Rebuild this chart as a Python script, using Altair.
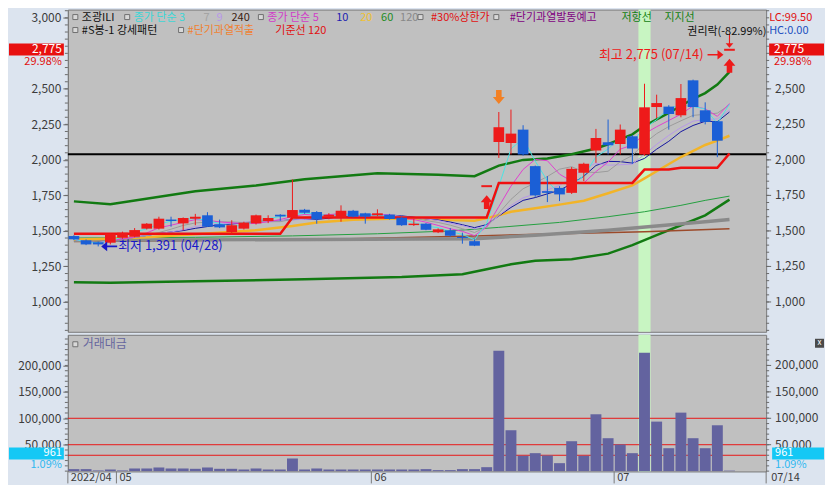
import altair as alt
import pandas as pd

FONT = "Noto Sans CJK KR"

# ---------------- data ----------------
dates = ["04/26", "04/27", "04/28", "04/29",
         "05/02", "05/03", "05/04", "05/06", "05/09", "05/10", "05/11", "05/12", "05/13",
         "05/16", "05/17", "05/18", "05/19", "05/20", "05/23", "05/24", "05/25", "05/26", "05/27",
         "05/30", "05/31",
         "06/02", "06/03", "06/07", "06/08", "06/09", "06/10", "06/13", "06/14", "06/15", "06/16",
         "06/17", "06/20", "06/21", "06/22", "06/23", "06/24", "06/27", "06/28", "06/29", "06/30",
         "07/01", "07/04", "07/05", "07/06", "07/07", "07/08", "07/11", "07/12", "07/13", "07/14"]

open_ = [1464, 1434, 1420, 1417,
         1452, 1459, 1516, 1516, 1580, 1553, 1586, 1610, 1547,
         1492, 1516, 1553, 1570, 1614, 1593, 1649, 1633, 1600, 1593,
         1642, 1624,
         1610, 1614, 1593, 1541, 1551, 1490, 1504, 1458, 1428, 1815,
         2126, 2119, 2213, 1956, 1780, 1803, 1768, 1909, 2066, 2124,
         2112, 2166, 2038, 2372, 2375, 2314, 2560, 2349, 2272, 2775]
high = [1470, 1440, 1425, 1485,
        1495, 1520, 1555, 1600, 1600, 1595, 1620, 1632, 1580,
        1575, 1565, 1615, 1610, 1618, 1862, 1655, 1640, 1625, 1680,
        1648, 1628,
        1652, 1620, 1600, 1586, 1555, 1518, 1520, 1488, 1440, 1815,
        2337, 2354, 2244, 1960, 1886, 1815, 1950, 1980, 2218, 2284,
        2249, 2175, 2536, 2459, 2385, 2534, 2565, 2405, 2272, 2775]
low = [1435, 1400, 1391, 1405,
       1445, 1455, 1510, 1510, 1530, 1505, 1540, 1528, 1520,
       1476, 1510, 1545, 1555, 1572, 1590, 1620, 1551, 1582, 1565,
       1595, 1551,
       1605, 1580, 1535, 1535, 1505, 1485, 1460, 1410, 1393, 1815,
       2014, 2038, 2030, 1740, 1703, 1710, 1760, 1850, 1979, 2038,
       2038, 1972, 2030, 2295, 2213, 2300, 2300, 2250, 2019, 2775]
close = [1441, 1405, 1405, 1480,
         1488, 1506, 1551, 1586, 1570, 1591, 1600, 1530, 1525,
         1540, 1558, 1610, 1591, 1602, 1647, 1628, 1582, 1614, 1642,
         1600, 1600,
         1624, 1584, 1540, 1551, 1508, 1511, 1466, 1450, 1396, 1815,
         2230, 2185, 2038, 1750, 1768, 1757, 1937, 1972, 2154, 2103,
         2213, 2080, 2370, 2400, 2323, 2435, 2372, 2267, 2135, 2775]
volume = [3800, 3800, 1300, 3100,
          1300, 5000, 5000, 6900, 5000, 5000, 4400, 6900, 4400,
          4400, 3100, 5000, 3100, 3100, 23900, 3100, 5000, 3100, 3100,
          3100, 3100,
          3100, 3100, 3100, 3100, 3800, 1900, 1900, 3800, 3800, 7500,
          228000, 77400, 29000, 34000, 29600, 15100, 56600, 29000, 107600, 62300,
          50300, 34000, 224000, 93700, 43400, 110700, 62300, 43400, 86800, 961]

# lines (candle index, price)
ma20_idx = [0, 3, 6, 10, 15, 18, 20, 23, 26, 29, 31, 33, 34, 35, 36, 38, 40, 42, 44, 46, 47, 48, 50, 52, 53, 54]
ma20_val = [1440, 1445, 1455, 1476, 1505, 1535, 1560, 1578, 1586, 1585, 1576, 1572, 1590, 1610, 1635, 1660,
            1685, 1712, 1765, 1820, 1870, 1920, 2020, 2105, 2135, 2170]
res_idx = [0, 3, 10, 15, 19, 25, 30, 33, 35, 37, 39, 41, 43, 44, 46, 47, 49, 51, 52, 53, 54]
res_val = [1708, 1688, 1780, 1820, 1864, 1906, 1895, 1885, 1960, 2000, 2010, 2040, 2080, 2110, 2180, 2240,
           2330, 2430, 2470, 2530, 2620]
sup_idx = [0, 3, 10, 19, 27, 32, 34, 36, 38, 41, 44, 46, 48, 50, 52, 54]
sup_val = [1139, 1135, 1145, 1160, 1175, 1195, 1230, 1265, 1290, 1300, 1340, 1400, 1470, 1540, 1610, 1720]
ma60_idx = [0, 10, 18, 25, 31, 35, 40, 44, 47, 50, 52, 54]
ma60_val = [1450, 1455, 1465, 1480, 1500, 1525, 1560, 1600, 1635, 1680, 1715, 1745]
ma120_idx = [0, 20, 33, 38, 44, 48, 52, 54]
ma120_val = [1435, 1440, 1445, 1470, 1505, 1535, 1565, 1580]
ma240_idx = [0, 20, 33, 40, 47, 54]
ma240_val = [1425, 1440, 1465, 1480, 1495, 1515]
base_idx = [0, 17, 18, 34, 35, 46, 47, 49, 50, 53, 54]
base_val = [1480, 1480, 1595, 1595, 1838, 1838, 1932, 1932, 1944, 1944, 2045]

level_line = [2040]
vol_levels = [100000, 50000, 30000]
highlight = [47]
sig_up = [34, 54]
sig_down = [35]

price_ticks = [1000, 1250, 1500, 1750, 2000, 2250, 2500, 3000]
price_ticks_right = [1000, 1250, 1500, 1750, 2000, 2250, 2500]
vol_ticks = [50000, 100000, 150000, 200000]
month_pos = [-0.5, 3.5, 24.5, 44.5]
month_lab = ["2022/04", "05", "06", "07"]

# ---------------- layout ----------------
W, H1, H2 = 700, 323, 137
BG = "#dce4ef"
RED = "#ee1a1a"
BLUE = "#1b5fd6"
TXT = "#3c3c3c"

n = len(dates)
df = pd.DataFrame({"i": list(range(n)), "d": dates, "o": open_, "h": high,
                   "l": low, "c": close, "v": volume})
DUMMY = pd.DataFrame({"a": [0]})

xs = alt.Scale(domain=[-0.5, 57.02], nice=False, zero=False)
ys = alt.Scale(domain=[790, 3058], nice=False, zero=False)
vs = alt.Scale(domain=[-600, 258000], nice=False, zero=False)

ax_common = dict(title=None, tickSize=5, labelPadding=2, minExtent=59, maxExtent=59,
                 labelFont=FONT, labelFontSize=12, labelColor=TXT, tickColor="#6a6a6a",
                 domainColor="#7a7a7a", grid=False, labelOverlap=False)
pax = alt.Axis(values=price_ticks, format=",d", **ax_common)
vax = alt.Axis(values=vol_ticks, format=",d", **ax_common)


def X(f):
    return alt.X(f, scale=xs, axis=None)


def PY(f):
    return alt.Y(f, scale=ys, axis=pax)


def VY(f):
    return alt.Y(f, scale=vs, axis=vax)


def txt(x, y, t, color, size=12, align="left", baseline="middle", clip=False):
    return alt.Chart(DUMMY).mark_text(text=t, color=color, fontSize=size, font=FONT,
                                      align=align, baseline=baseline, clip=clip).encode(
        x=alt.value(x), y=alt.value(y))


def box(x1, x2, y1, y2, color):
    return alt.Chart(DUMMY).mark_rect(color=color).encode(
        x=alt.value(x1), x2=alt.value(x2), y=alt.value(y1), y2=alt.value(y2))


def sq(x, y):
    return alt.Chart(DUMMY).mark_rect(fill="#d8d8d8", stroke="#707070", strokeWidth=1).encode(
        x=alt.value(x), x2=alt.value(x + 5), y=alt.value(y - 3), y2=alt.value(y + 2))


def pline(idx, val, color, width):
    return alt.Chart(pd.DataFrame({"i": idx, "p": val})).mark_line(
        color=color, strokeWidth=width).encode(x=X("i:Q"), y=PY("p:Q"))


band_df = pd.DataFrame({"i": highlight})
band_main = alt.Chart(band_df).transform_calculate(
    a="datum.i-0.5", b="datum.i+0.5").mark_rect(color="#c8f5c2").encode(x=X("a:Q"), x2="b:Q")

level = alt.Chart(pd.DataFrame({"p": level_line})).mark_rule(
    color="#000000", strokeWidth=2).encode(y=PY("p:Q"))

sort_i = [alt.SortField("i")]
short_ma = (alt.Chart(df)
            .transform_window(ma3="mean(c)", frame=[-2, 0], sort=sort_i)
            .transform_window(ma5="mean(c)", frame=[-4, 0], sort=sort_i)
            .transform_window(ma7="mean(c)", frame=[-6, 0], sort=sort_i)
            .transform_window(ma9="mean(c)", frame=[-8, 0], sort=sort_i)
            .transform_window(ma10="mean(c)", frame=[-9, 0], sort=sort_i)
            .transform_fold(["ma10", "ma9", "ma7", "ma5", "ma3"], as_=["k", "m"])
            .mark_line(strokeWidth=1)
            .encode(x=X("i:Q"), y=PY("m:Q"),
                    color=alt.Color("k:N", legend=None, scale=alt.Scale(
                        domain=["ma10", "ma9", "ma7", "ma5", "ma3"],
                        range=["#1414a0", "#b898e8", "#9c9c9c", "#e040d0", "#48e4e4"]))))

cond = alt.condition("datum.c >= datum.o", alt.value(RED), alt.value(BLUE))
cd = alt.Chart(df).transform_calculate(xl="datum.i-0.44", xr="datum.i+0.44")
wick = cd.mark_rule(strokeWidth=1).encode(x=X("i:Q"), y=PY("l:Q"), y2="h:Q", color=cond)
body = cd.mark_rect().encode(x=X("xl:Q"), x2="xr:Q", y=PY("o:Q"), y2="c:Q", color=cond)
flat = cd.transform_filter("datum.o == datum.c").mark_rule(strokeWidth=2).encode(
    x=X("xl:Q"), x2="xr:Q", y=PY("c:Q"), color=cond)

UP_BLOCK = "M-0.4,1L0.4,1L0.4,0L0.85,0L0,-1L-0.85,0L-0.4,0Z"
DN_BLOCK = "M-0.4,-1L0.4,-1L0.4,0L0.85,0L0,1L-0.85,0L-0.4,0Z"
LEFT_ARROW = "M-1,0L-0.25,-0.6L-0.25,-0.1L1,-0.1L1,0.1L-0.25,0.1L-0.25,0.6Z"
RIGHT_ARROW = "M1,0L0.25,-0.6L0.25,-0.1L-1,-0.1L-1,0.1L0.25,0.1L0.25,0.6Z"
THIN_DOWN = "M-0.08,-1L0.08,-1L0.08,0.35L0.55,0.35L0,1L-0.55,0.35L-0.08,0.35Z"

up_sig = alt.Chart(df[df.i.isin(sig_up)]).mark_point(
    shape=UP_BLOCK, filled=True, size=196, color=RED, opacity=1, yOffset=16).encode(
    x=X("i:Q"), y=PY("l:Q"))
dn_sig = alt.Chart(df[df.i.isin(sig_down)]).mark_point(
    shape=DN_BLOCK, filled=True, size=196, color="#f28024", opacity=1, yOffset=-15).encode(
    x=X("i:Q"), y=PY("h:Q"))

lo_i = int(df.l.idxmin())
hi_i = int(df.h.idxmax())
lo_df = df.iloc[[lo_i]]
hi_df = df.iloc[[hi_i]]
lo_arrow = alt.Chart(lo_df).mark_point(shape=LEFT_ARROW, filled=True, size=256,
                                       color="#1818c8", opacity=1, xOffset=11).encode(
    x=X("i:Q"), y=PY("l:Q"))
lo_text = alt.Chart(lo_df).transform_calculate(
    t="'최저 ' + format(datum.l, ',d') + ' (' + datum.d + ')'").mark_text(
    align="left", baseline="middle", dx=20, font=FONT, fontSize=13, color="#1818c8").encode(
    x=X("i:Q"), y=PY("l:Q"), text="t:N")
hi_arrow = alt.Chart(hi_df).mark_point(shape=RIGHT_ARROW, filled=True, size=256,
                                       color=RED, opacity=1, xOffset=-14, yOffset=5).encode(
    x=X("i:Q"), y=PY("h:Q"))
hi_text = alt.Chart(hi_df).transform_calculate(
    t="'최고 ' + format(datum.h, ',d') + ' (' + datum.d + ')'").mark_text(
    align="right", baseline="middle", dx=-26, dy=5, font=FONT, fontSize=13, color=RED).encode(
    x=X("i:Q"), y=PY("h:Q"), text="t:N")
right_arrow = alt.Chart(hi_df).mark_point(shape=THIN_DOWN, filled=True, size=196,
                                          color=RED, opacity=1, yOffset=-9).encode(
    x=X("i:Q"), y=PY("h:Q"))

# right axis (drawn from the price scale)
rt = pd.DataFrame({"p": price_ticks_right})
r_labels = alt.Chart(rt).mark_text(align="left", baseline="middle", font=FONT, fontSize=12,
                                   color=TXT).encode(
    x=alt.value(W + 9), y=PY("p:Q"), text=alt.Text("p:Q", format=",d"))
r_ticks = alt.Chart(rt).mark_rule(color="#6a6a6a").encode(
    x=alt.value(W), x2=alt.value(W + 5), y=PY("p:Q"))
minor_p = pd.DataFrame({"p": list(range(800, 3051, 50))})
minor_l = alt.Chart(minor_p).mark_rule(color="#6a6a6a").encode(
    x=alt.value(-3), x2=alt.value(0), y=PY("p:Q"))
minor_r = alt.Chart(minor_p).mark_rule(color="#6a6a6a").encode(
    x=alt.value(W), x2=alt.value(W + 3), y=PY("p:Q"))

LS = 11
legend_rows = [
    (8, [(5, None, None), (14, "조광ILI", "#111111"), (57, None, None),
         (66, "종가 단순 3", "#3cd6d6"), (136, "7", "#a4a4a4"), (149, "9", "#b898e8"),
         (164, "240", "#3a2010"), (191, None, None), (200, "종가 단순 5", "#d03cc8"),
         (269, "10", "#1c1cb0"), (293, "20", "#f0c030"), (314, "60", "#1e8c1e"),
         (333, "120", "#888888"), (351, None, None), (364, "#30%상한가", "#e01010"),
         (427, None, None), (443, "#단기과열발동예고", "#800080"),
         (555, "저항선", "#128012"), (598, "지지선", "#128012")]),
    (21, [(5, None, None), (14, "#S봉-1 강세패턴", "#111111"), (111, None, None),
          (120, "#단기과열적출", "#f08030"), (208, "기준선 120", "#e01010")]),
]
legend_layers = []
for yy, items in legend_rows:
    for xx, t, col in items:
        if t is None:
            legend_layers.append(sq(xx, yy))
        else:
            legend_layers.append(txt(xx, yy, t, col, size=LS))

main_layers = [band_main, level,
               pline(res_idx, res_val, "#127a12", 2.5),
               pline(sup_idx, sup_val, "#127a12", 2.5),
               pline(ma240_idx, ma240_val, "#9c4a2a", 1.5),
               pline(ma120_idx, ma120_val, "#8a8a8a", 3.5),
               pline(ma60_idx, ma60_val, "#24a040", 1),
               pline(ma20_idx, ma20_val, "#f2b428", 2.5),
               short_ma,
               pline(base_idx, base_val, "#f01010", 2.5),
               wick, body, flat,
               up_sig, dn_sig, lo_arrow, lo_text, hi_arrow, hi_text, right_arrow,
               minor_l, minor_r, r_ticks, r_labels,
               txt(621, 22, "권리락(-82.99%)", "#111111", size=11, clip=True),
               txt(W + 3, 8, "LC:99.50", "#e01010", size=11),
               txt(W + 3, 21, "HC:0.00", "#2050c0", size=11),
               box(-59, -4, 34, 46, "#e81010"),
               txt(-6, 40, "2,775", "#ffffff", align="right"),
               txt(-6, 53, "29.98%", "#e01010", align="right", size=11),
               box(W + 3, W + 58, 34, 46, "#e81010"),
               txt(W + 8, 40, "2,775", "#ffffff"),
               txt(W + 8, 53, "29.98%", "#e01010", size=11),
               ] + legend_layers

main = alt.layer(*main_layers).properties(width=W, height=H1)

# ---------------- volume panel ----------------
band_vol = alt.Chart(band_df).transform_calculate(
    a="datum.i-0.5", b="datum.i+0.5").mark_rect(color="#c8f5c2").encode(x=X("a:Q"), x2="b:Q")
vlev = alt.Chart(pd.DataFrame({"v": vol_levels})).mark_rule(
    color="#e81818", strokeWidth=1).encode(y=VY("v:Q"))
vbars = alt.Chart(df).transform_calculate(
    xl="datum.i-0.45", xr="datum.i+0.45", z="0").mark_rect(color="#63639f").encode(
    x=X("xl:Q"), x2="xr:Q", y=VY("v:Q"), y2="z:Q")
vt = pd.DataFrame({"v": vol_ticks})
v_labels = alt.Chart(vt).mark_text(align="left", baseline="middle", font=FONT, fontSize=12,
                                   color=TXT).encode(
    x=alt.value(W + 9), y=VY("v:Q"), text=alt.Text("v:Q", format=",d"))
v_ticks = alt.Chart(vt).mark_rule(color="#6a6a6a").encode(
    x=alt.value(W), x2=alt.value(W + 5), y=VY("v:Q"))
minor_v = pd.DataFrame({"v": list(range(0, 250001, 10000))})
vminor_l = alt.Chart(minor_v).mark_rule(color="#6a6a6a").encode(
    x=alt.value(-3), x2=alt.value(0), y=VY("v:Q"))
vminor_r = alt.Chart(minor_v).mark_rule(color="#6a6a6a").encode(
    x=alt.value(W), x2=alt.value(W + 3), y=VY("v:Q"))

mdf = pd.DataFrame({"p": month_pos, "t": month_lab})
m_sep = alt.Chart(mdf).mark_rule(color="#7a7a7a").encode(
    x=X("p:Q"), y=alt.value(H2), y2=alt.value(H2 + 12))
m_lab = alt.Chart(mdf).mark_text(align="left", baseline="top", dx=3, font=FONT, fontSize=11,
                                 color=TXT).encode(x=X("p:Q"), y=alt.value(H2 + 1), text="t:N")
last_df = pd.DataFrame({"p": [57.02], "t": [dates[-1]]})
last_sep = alt.Chart(last_df).mark_rule(color="#7a7a7a").encode(
    x=X("p:Q"), y=alt.value(H2), y2=alt.value(H2 + 12))
last_lab = alt.Chart(last_df).mark_text(align="left", baseline="top", dx=5, font=FONT,
                                        fontSize=11, color=TXT).encode(
    x=X("p:Q"), y=alt.value(H2 + 1), text="t:N")

vol_layers = [band_vol, vlev, vbars, vminor_l, vminor_r, v_ticks, v_labels,
              sq(5, 10), txt(15, 9, "거래대금", "#66669e"),
              box(-59, -4, 113, 125, "#14c8f5"),
              txt(-6, 119, "961", "#ffffff", align="right", size=11),
              txt(-6, 131, "1.09%", "#30b8f0", align="right", size=11),
              box(W + 6, W + 58, 113, 125, "#14c8f5"),
              txt(W + 9, 119, "961", "#ffffff", size=11),
              txt(W + 9, 131, "1.09%", "#30b8f0", size=11),
              box(W + 49, W + 58, 4, 13, "#4a4a4a"),
              txt(W + 53.5, 8.5, "x", "#ffffff", size=8, align="center"),
              m_sep, m_lab, last_sep, last_lab]
vol = alt.layer(*vol_layers).properties(width=W, height=H2)

chart = (alt.vconcat(main, vol, spacing=1)
         .properties(background=BG, padding=0)
         .configure_view(fill="#c0c0c0", stroke="#7a7a7a", strokeWidth=1))

chart.save("out.html", embed_options={"renderer": "svg", "actions": False})
